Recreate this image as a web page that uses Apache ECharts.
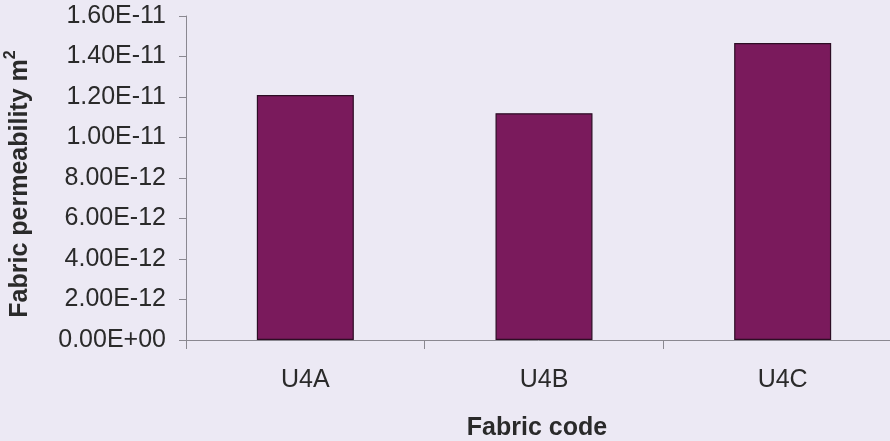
<!DOCTYPE html>
<html>
<head>
<meta charset="utf-8">
<script src="https://cdn.jsdelivr.net/npm/echarts@6/dist/echarts.min.js"></script>
<style>
html,body{margin:0;padding:0;background:#ECE9F4;}
#chart{width:890px;height:441px;}
</style>
</head>
<body>
<div id="chart"></div>
<script>
const categories = ['U4A', 'U4B', 'U4C'];
const permeability = [1.21e-11, 1.12e-11, 1.467e-11];
const yTickLabels = ['0.00E+00', '2.00E-12', '4.00E-12', '6.00E-12', '8.00E-12', '1.00E-11', '1.20E-11', '1.40E-11', '1.60E-11'];
const yMax = 1.6e-11;
const yStep = 2e-12;

const chart = echarts.init(document.getElementById('chart'), null, {renderer: 'canvas'});
const font = 'Liberation Sans, Arial, sans-serif';
chart.setOption({
  backgroundColor: '#ECE9F4',
  animation: false,
  grid: {left: 186, top: 16, width: 716, height: 324, containLabel: false, outerBoundsMode: 'none'},
  xAxis: {
    type: 'category',
    data: categories,
    axisLine: {lineStyle: {color: '#8a8890', width: 1}},
    axisTick: {show: true, length: 9, lineStyle: {color: '#8a8890'}},
    axisLabel: {color: '#2a2a2a', fontFamily: font, fontSize: 25, margin: 28},
    name: 'Fabric code',
    nameLocation: 'middle',
    nameGap: 76,
    nameTextStyle: {color: '#2a2a2a', fontFamily: font, fontSize: 25, fontWeight: 'bold', padding: [0, 14, 0, 0]}
  },
  yAxis: {
    type: 'value',
    min: 0,
    max: yMax,
    interval: yStep,
    splitLine: {show: false},
    axisLine: {show: true, lineStyle: {color: '#8a8890', width: 1}},
    axisTick: {show: true, length: 7, lineStyle: {color: '#8a8890'}},
    axisLabel: {
      color: '#2a2a2a', fontFamily: font, fontSize: 25, margin: 20,
      formatter: function (v, i) { return yTickLabels[i]; }
    },
    name: '{t|Fabric permeability m}{s|2}',
    nameLocation: 'middle',
    nameRotate: 90,
    nameGap: 153,
    nameTextStyle: {
      padding: [0, 12, 0, 0],
      rich: {
        t: {color: '#2a2a2a', fontFamily: font, fontSize: 25, fontWeight: 'bold', verticalAlign: 'bottom', lineHeight: 30},
        s: {color: '#2a2a2a', fontFamily: font, fontSize: 16, fontWeight: 'bold', verticalAlign: 'top', lineHeight: 30, padding: [0, 0, 12, 0]}
      }
    }
  },
  series: [{
    type: 'bar',
    data: permeability,
    barWidth: 97,
    itemStyle: {color: '#7A1A5C', borderColor: '#2d0d24', borderWidth: 1.2}
  }]
});
</script>
</body>
</html>
